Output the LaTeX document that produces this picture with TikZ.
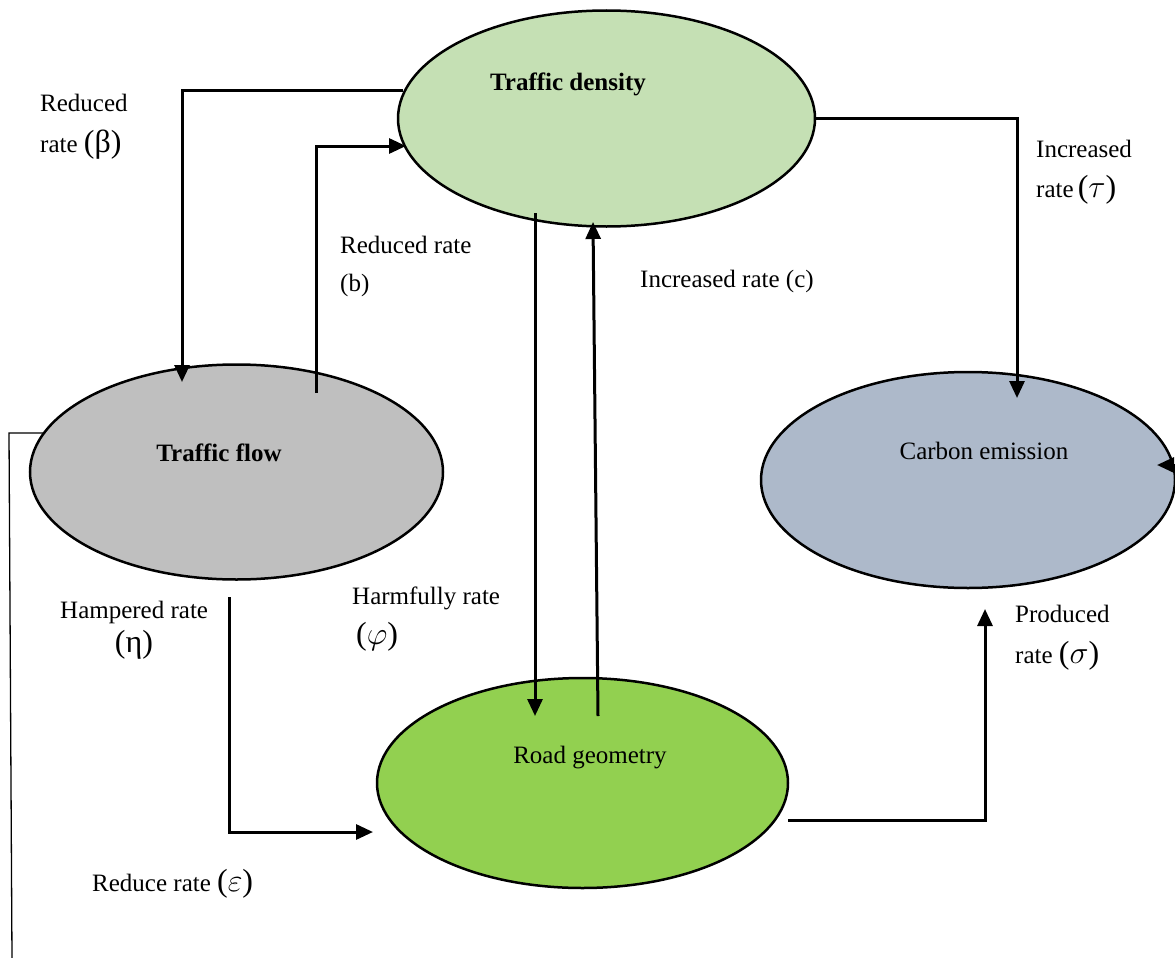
\RequirePackage{fix-cm}
\documentclass[tikz,border=0pt]{standalone}
\usepackage{fontspec}
\setmainfont{Liberation Serif}
\usetikzlibrary{shapes.geometric,arrows.meta}
\newcommand{\gk}[1]{{\fontsize{32}{36}\selectfont #1}}
\begin{document}
\begin{tikzpicture}[x=1pt,y=-1pt,
  ell/.style={ellipse,draw=black,line width=2.5pt,inner sep=0pt},
  conn/.style={line width=3pt,-{Triangle[length=17pt,width=15pt]}},
  thin/.style={line width=1.3pt},
  lbl/.style={anchor=mid west,inner sep=0pt,font=\fontsize{25}{29}\selectfont},
  ttl/.style={anchor=mid,inner sep=0pt,font=\fontsize{25}{29}\selectfont}]
\useasboundingbox (0,0) rectangle (1175,958);
% ellipses
\node[ell,fill={rgb,255:red,197;green,224;blue,180},minimum width=417pt,minimum height=216pt] (dens) at (606.5,118.5) {};
\node[ell,fill={rgb,255:red,191;green,191;blue,191},minimum width=413pt,minimum height=215pt] (flow) at (236.5,472) {};
\node[ell,fill={rgb,255:red,173;green,185;blue,202},minimum width=414pt,minimum height=216pt] (carb) at (968,480) {};
\node[ell,fill={rgb,255:red,146;green,208;blue,80},minimum width=411pt,minimum height=210pt] (road) at (582.5,783) {};
% titles
\node[ttl,font=\fontsize{25}{29}\selectfont\bfseries] (tdens) at (568,88) {Traffic density};
\node[ttl,font=\fontsize{25}{29}\selectfont\bfseries] (tflow) at (219,459) {Traffic flow};
\node[ttl] (tcarb) at (984,457) {Carbon emission};
\node[ttl] (troad) at (590,761) {Road geometry};
% coordinates
\coordinate (a1) at (403,90);
\coordinate (a1c) at (182,90);
\coordinate (a1e) at (182,382);
\coordinate (b1) at (316,393);
\coordinate (b1c) at (316,146);
\coordinate (b1e) at (406,146);
\coordinate (c1) at (815,118);
\coordinate (c1c) at (1017,118);
\coordinate (c1e) at (1017,398);
\coordinate (d1) at (535,213);
\coordinate (d1e) at (535,716);
\coordinate (e1) at (598,716);
\coordinate (e1e) at (593,222);
\coordinate (f1) at (229,597);
\coordinate (f1c) at (229,832);
\coordinate (f1e) at (373,832);
\coordinate (g1) at (788,820);
\coordinate (g1c) at (985,820);
\coordinate (g1e) at (985,609);
\coordinate (h1) at (45,433);
\coordinate (h1c) at (9,433);
\coordinate (h1e) at (12,958);
\coordinate (k1) at (1176,465);
\coordinate (k1e) at (1157,465);
% connectors
\draw[conn] (a1) -- (a1c) -- (a1e);
\draw[conn] (b1) -- (b1c) -- (b1e);
\draw[conn] (c1) -- (c1c) -- (c1e);
\draw[conn] (d1) -- (d1e);
\draw[conn] (e1) -- (e1e);
\draw[conn] (f1) -- (f1c) -- (f1e);
\draw[conn] (g1) -- (g1c) -- (g1e);
\draw[thin] (h1) -- (h1c) -- (h1e);
\draw[conn] (k1) -- (k1e);
% labels
\node[lbl] (l1a) at (40,109) {Reduced};
\node[lbl] (l1b) at (40,150) {rate \gk{(β)}};
\node[lbl] (l2a) at (340,251) {Reduced rate};
\node[lbl] (l2b) at (340,289) {(b)};
\node[lbl] (l3) at (640,285) {Increased rate (c)};
\node[lbl] (l4a) at (1036,155) {Increased};
\node[lbl] (l4b) at (1036,195) {rate\,\gk{($\tau$)}};
\node[lbl] (l5a) at (60,616) {Hampered rate};
\node[ttl] (l5b) at (134,650) {\gk{(η)}};
\node[lbl] (l6a) at (352,602) {Harmfully rate};
\node[lbl] (l6b) at (356,642) {\gk{($\varphi$)}};
\node[lbl] (l7a) at (1015,620) {Produced};
\node[lbl] (l7b) at (1015,661) {rate \gk{($\sigma$)}};
\node[lbl] (l8) at (92,889) {Reduce rate \gk{($\varepsilon$)}};
\end{tikzpicture}
\end{document}
